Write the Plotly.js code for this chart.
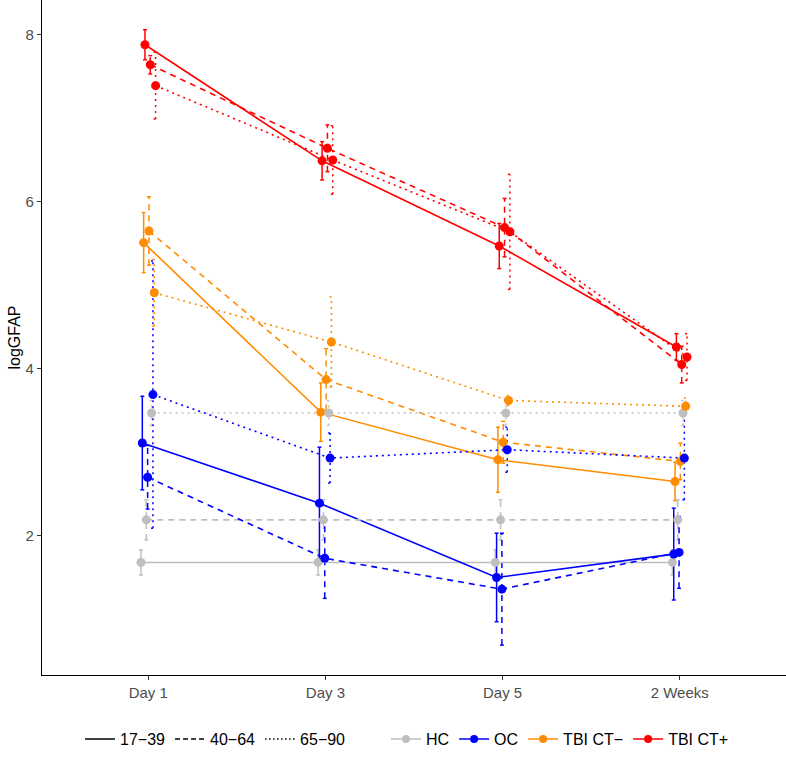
<!DOCTYPE html>
<html><head><meta charset="utf-8">
<script src="https://cdn.plot.ly/plotly-3.0.1.min.js"></script>
<style>html,body{margin:0;padding:0;background:#fff}#chart{width:786px;height:758px}</style>
</head><body><div id="chart"></div>
<script>
// ---- data ----
const days = ["Day 1", "Day 3", "Day 5", "2 Weeks"];
const ages = ["17\u221239", "40\u221264", "65\u221290"];
const groups = ["HC", "OC", "TBI CT\u2212", "TBI CT+"];
const yTicks = [2, 4, 6, 8];

// means (logGFAP) per age band, per day
const HC_17_39 = [1.68, 1.68, 1.68, 1.68];
const HC_40_64 = [2.19, 2.19, 2.19, 2.19];
const HC_65_90 = [3.47, 3.47, 3.47, 3.47];
const OC_17_39 = [3.11, 2.39, 1.50, 1.78];
const OC_40_64 = [2.70, 1.73, 1.36, 1.80];
const OC_65_90 = [3.69, 2.93, 3.03, 2.93];
const CTneg_17_39 = [5.51, 3.48, 2.91, 2.65];
const CTneg_40_64 = [5.65, 3.87, 3.12, 2.89];
const CTneg_65_90 = [4.91, 4.32, 3.62, 3.55];
const CTpos_17_39 = [7.88, 6.49, 5.47, 4.26];
const CTpos_40_64 = [7.64, 6.64, 5.69, 4.05];
const CTpos_65_90 = [7.39, 6.50, 5.64, 4.14];

// error bar half-widths
const HC_17_39_err = [0.15, 0.15, 0.15, 0.15];
const HC_40_64_err = [0.24, 0.24, 0.24, 0.24];
const HC_65_90_err = [0.15, 0.15, 0.15, 0.15];
const OC_17_39_err = [0.56, 0.67, 0.53, 0.55];
const OC_40_64_err = [0.38, 0.48, 0.67, 0.43];
const OC_65_90_err = [1.60, 0.30, 0.27, 0.50];
const CTneg_17_39_err = [0.36, 0.35, 0.39, 0.23];
const CTneg_40_64_err = [0.41, 0.37, 0.25, 0.22];
const CTneg_65_90_err = [0.40, 0.54, 0.06, 0.10];
const CTpos_17_39_err = [0.18, 0.23, 0.27, 0.16];
const CTpos_40_64_err = [0.11, 0.28, 0.35, 0.22];
const CTpos_65_90_err = [0.40, 0.41, 0.69, 0.28];

// ---- styles ----
const colors = ["#BEBEBE", "#0000FF", "#FF8C00", "#FF0000"];
const dashes = ["solid", "6px,5px", "2px,4px"];
const legendDashes = ["solid", "5px,3px", "1.5px,2.5px"];

const means = [
  [HC_17_39, OC_17_39, CTneg_17_39, CTpos_17_39],
  [HC_40_64, OC_40_64, CTneg_40_64, CTpos_40_64],
  [HC_65_90, OC_65_90, CTneg_65_90, CTpos_65_90]
];
const errs = [
  [HC_17_39_err, OC_17_39_err, CTneg_17_39_err, CTpos_17_39_err],
  [HC_40_64_err, OC_40_64_err, CTneg_40_64_err, CTpos_40_64_err],
  [HC_65_90_err, OC_65_90_err, CTneg_65_90_err, CTpos_65_90_err]
];

const DODGE = 0.09;
const CAP = 0.011;
const nGroups = ages.length * groups.length;

const errTraces = [], lineTraces = [], ptTraces = [];
ages.forEach((age, a) => {
  groups.forEach((g, k) => {
    const i = a * groups.length + k;
    const off = (i - (nGroups - 1) / 2) * DODGE / nGroups;
    const xs = days.map((d, j) => j + 1 + off);
    const ys = means[a][k];
    const es = errs[a][k];
    const ex = [], ey = [];
    xs.forEach((x, j) => {
      const lo = ys[j] - es[j], hi = ys[j] + es[j];
      ex.push(x, x, null, x - CAP, x + CAP, null, x - CAP, x + CAP, null);
      ey.push(lo, hi, null, lo, lo, null, hi, hi, null);
    });
    errTraces.push({x: ex, y: ey, type: 'scatter', mode: 'lines', showlegend: false, hoverinfo: 'skip',
      line: {color: colors[k], width: 1.5, dash: dashes[a]}});
    lineTraces.push({x: xs, y: ys, type: 'scatter', mode: 'lines', showlegend: false, name: g + ' ' + age,
      line: {color: colors[k], width: 1.6, dash: dashes[a]}});
    ptTraces.push({x: xs, y: ys, type: 'scatter', mode: 'markers', showlegend: false, name: g + ' ' + age,
      marker: {color: colors[k], size: 9}});
  });
});

const legTraces = [];
ages.forEach((age, a) => {
  legTraces.push({x: [null], y: [null], type: 'scatter', mode: 'lines', name: age, legend: 'legend',
    line: {color: '#000', width: 1.5, dash: legendDashes[a]}});
});
groups.forEach((g, k) => {
  legTraces.push({x: [null], y: [null], type: 'scatter', mode: 'lines+markers', name: g, legend: 'legend2',
    line: {color: colors[k], width: 1.5}, marker: {color: colors[k], size: 8}});
});

const axisCommon = {
  showline: true, linecolor: '#000', linewidth: 1.2, ticks: 'outside', ticklen: 4, tickwidth: 1,
  tickcolor: '#333', showgrid: false, zeroline: false,
  tickfont: {family: 'Liberation Sans, Arial, sans-serif', size: 15, color: '#4D4D4D'}
};

const layout = {
  width: 786, height: 758,
  margin: {l: 42, r: 0, t: 0, b: 83},
  paper_bgcolor: '#fff', plot_bgcolor: '#fff',
  font: {family: 'Liberation Sans, Arial, sans-serif', color: '#000'},
  xaxis: Object.assign({}, axisCommon, {range: [0.4, 4.6], tickvals: [1, 2, 3, 4], ticktext: days}),
  yaxis: Object.assign({}, axisCommon, {range: [0.332, 8.416], tickvals: yTicks, ticktext: yTicks.map(String),
    title: {text: 'logGFAP', font: {size: 16, color: '#000'}, standoff: 0}}),
  legend: {orientation: 'h', x: (80 - 42) / 744, xanchor: 'left', y: -0.095, yanchor: 'middle',
    font: {size: 16}, bgcolor: 'rgba(0,0,0,0)', traceorder: 'normal'},
  legend2: {orientation: 'h', x: (386 - 42) / 744, xanchor: 'left', y: -0.095, yanchor: 'middle',
    font: {size: 16}, bgcolor: 'rgba(0,0,0,0)', traceorder: 'normal'},
  showlegend: true
};

Plotly.newPlot('chart', errTraces.concat(lineTraces, ptTraces, legTraces), layout, {displayModeBar: false, staticPlot: true});
</script>
</body></html>
